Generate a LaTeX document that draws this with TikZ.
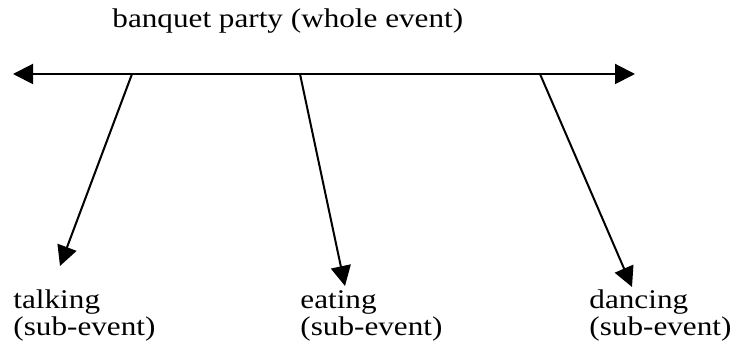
\documentclass[tikz,border=0pt]{standalone}
\usepackage{fontspec}
\setmainfont{Liberation Serif}
\usetikzlibrary{arrows.meta}

\begin{document}
\begin{tikzpicture}[x=0.5pt,y=-0.5pt,
    lbl/.style={inner sep=0pt,anchor=base west,xscale=1.155,font=\fontsize{13.5}{15}\selectfont},
    arr/.style={line width=1pt,-{Triangle[length=10pt,width=10pt]}}]
            \useasboundingbox (0,0) rectangle (735,351);
            \node[lbl] (title) at (112,28) {banquet party (whole event)};
            \coordinate (lft) at (13,74);
            \coordinate (rgt) at (635,74);
            \coordinate (talkroot) at (132,74);
            \coordinate (eatroot) at (300,74);
            \coordinate (danceroot) at (540,74);
            \coordinate (talktip) at (60,266);
            \coordinate (eattip) at (345,286);
            \coordinate (dancetip) at (632,287);
            \draw[line width=1pt,{Triangle[length=10pt,width=10pt]}-{Triangle[length=10pt,width=10pt]}] (lft) -- (rgt);
            \draw[arr] (talkroot) -- (talktip);
            \draw[arr] (eatroot) -- (eattip);
            \draw[arr] (danceroot) -- (dancetip);
            \node[lbl] (talk) at (13,309) {talking};
            \node[lbl] (talksub) at (13,336) {(sub-event)};
            \node[lbl] (eat) at (300,309) {eating};
            \node[lbl] (eatsub) at (300,336) {(sub-event)};
            \node[lbl] (dance) at (589,309) {dancing};
            \node[lbl] (dancesub) at (589,336) {(sub-event)};
        \end{tikzpicture}
\end{document}
